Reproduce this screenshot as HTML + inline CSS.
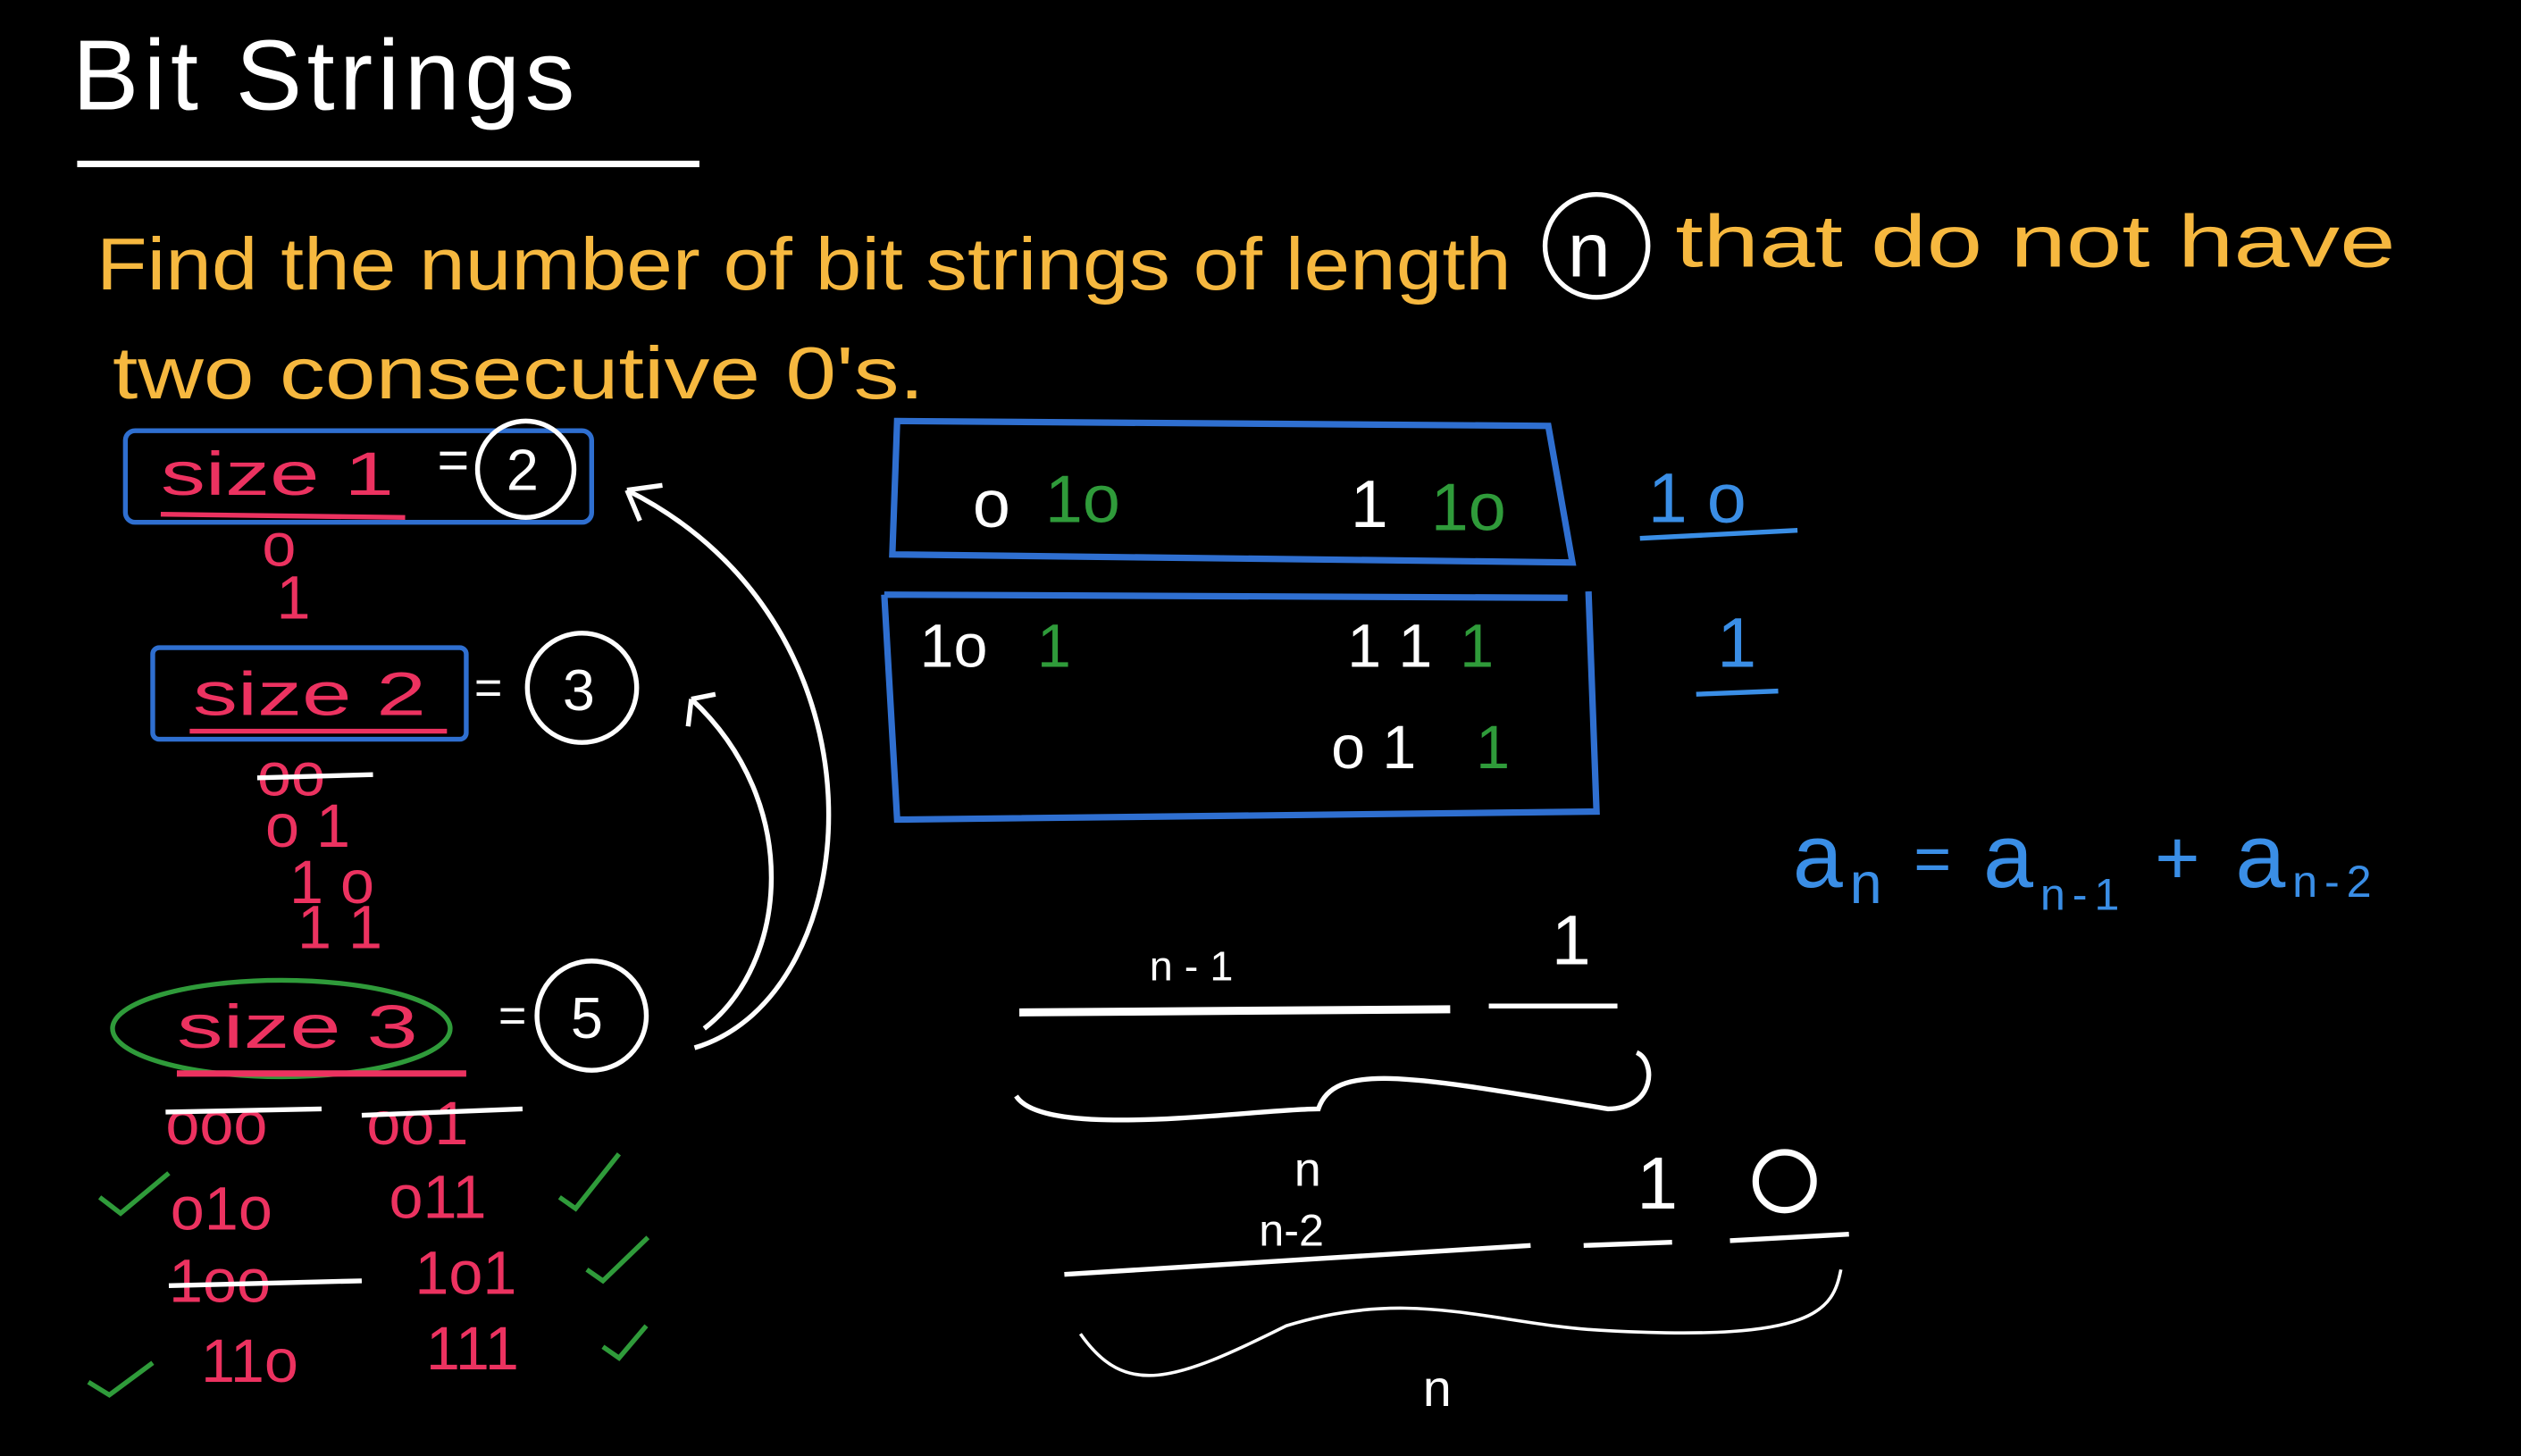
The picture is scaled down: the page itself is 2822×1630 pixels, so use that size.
<!DOCTYPE html>
<html><head><meta charset="utf-8"><style>
html,body{margin:0;padding:0;background:#000;width:2822px;height:1630px;overflow:hidden}
svg{display:block}
text{font-family:"Liberation Sans",sans-serif}
.y{fill:#f6b83f;font-size:46px}
.p{fill:#ec3260;font-size:38px}
.w{fill:#fff}
.b{fill:#3a8ee6}
.g{fill:#2f9b3a}
</style></head><body>
<svg width="2822" height="1630" viewBox="0 0 1568 906" preserveAspectRatio="none" xmlns="http://www.w3.org/2000/svg">
<rect width="1568" height="906" fill="#000"/>
<text x="45" y="68" class="w" font-size="62" letter-spacing="3">Bit Strings</text>
<line x1="48" y1="102" x2="435" y2="102" stroke="#fff" stroke-width="4"/>
<text x="60" y="180" class="y" textLength="880" lengthAdjust="spacingAndGlyphs">Find the number of bit strings of length</text>
<circle cx="993" cy="153" r="32" fill="none" stroke="#fff" stroke-width="3"/>
<text x="975" y="172" class="w" font-size="48">n</text>
<text x="1042" y="166" class="y" textLength="448" lengthAdjust="spacingAndGlyphs">that do not have</text>
<text x="70" y="248" class="y" textLength="505" lengthAdjust="spacingAndGlyphs">two consecutive 0's.</text>

<rect x="78" y="268" width="290" height="57" rx="6" fill="none" stroke="#2f6fd0" stroke-width="3"/>
<text x="100" y="308" class="p" textLength="145" lengthAdjust="spacingAndGlyphs">size 1</text>
<line x1="100" y1="320" x2="252" y2="322" stroke="#ec3260" stroke-width="3"/>
<text x="272" y="298" class="w" font-size="34">=</text>
<circle cx="327" cy="292" r="30" fill="none" stroke="#fff" stroke-width="3"/>
<text x="315" y="305" class="w" font-size="36">2</text>
<text x="163" y="352" class="p" font-size="28">o</text>
<text x="172" y="385" class="p" font-size="30">1</text>

<rect x="95" y="403" width="195" height="57" rx="4" fill="none" stroke="#2f6fd0" stroke-width="3"/>
<text x="120" y="445" class="p" textLength="145" lengthAdjust="spacingAndGlyphs">size 2</text>
<line x1="118" y1="455" x2="278" y2="455" stroke="#ec3260" stroke-width="3"/>
<text x="295" y="438" class="w" font-size="30">=</text>
<circle cx="362" cy="428" r="34" fill="none" stroke="#fff" stroke-width="3"/>
<text x="350" y="442" class="w" font-size="36">3</text>
<text x="160" y="495" class="p" font-size="30">oo</text>
<line x1="160" y1="484" x2="232" y2="482" stroke="#fff" stroke-width="3"/>
<text x="165" y="527" class="p" font-size="30">o 1</text>
<text x="180" y="562" class="p" font-size="30">1 o</text>
<text x="185" y="590" class="p" font-size="30">1 1</text>

<ellipse cx="175" cy="640" rx="105" ry="30" fill="none" stroke="#2f9b3a" stroke-width="3"/>
<text x="110" y="652" class="p" textLength="150" lengthAdjust="spacingAndGlyphs">size 3</text>
<line x1="110" y1="668" x2="290" y2="668" stroke="#ec3260" stroke-width="4"/>
<text x="310" y="642" class="w" font-size="30">=</text>
<circle cx="368" cy="632" r="34" fill="none" stroke="#fff" stroke-width="3"/>
<text x="355" y="646" class="w" font-size="36">5</text>
<text x="103" y="712" class="p" font-size="38">ooo</text>
<line x1="103" y1="692" x2="200" y2="690" stroke="#fff" stroke-width="3"/>
<text x="228" y="712" class="p" font-size="38">oo1</text>
<line x1="225" y1="694" x2="325" y2="690" stroke="#fff" stroke-width="3"/>
<text x="106" y="765" class="p" font-size="40">o1o</text>
<text x="242" y="758" class="p" font-size="40">o11</text>
<text x="105" y="810" class="p" font-size="38">1oo</text>
<line x1="105" y1="800" x2="225" y2="797" stroke="#fff" stroke-width="3"/>
<text x="258" y="805" class="p" font-size="40">1o1</text>
<text x="125" y="860" class="p" font-size="38">11o</text>
<text x="265" y="852" class="p" font-size="38">111</text>
<g stroke="#2f9b3a" stroke-width="3" fill="none">
<path d="M62 745 L75 755 L105 730"/><path d="M348 745 L358 752 L385 718"/>
<path d="M365 790 L375 797 L403 770"/><path d="M55 860 L68 868 L95 848"/>
<path d="M375 838 L385 845 L402 825"/>
</g>
<g stroke="#fff" stroke-width="3" fill="none">
<path d="M432 652 C 540 620, 560 390, 390 305"/>
<path d="M390 305 L412 302 M390 305 L398 324"/>
<path d="M438 640 C 490 600, 500 500, 430 435"/>
<path d="M430 435 L445 432 M430 435 L428 452"/>
</g>

<path d="M558 262 L963 265 L978 350 L555 345 Z" fill="none" stroke="#2f6fd0" stroke-width="4"/>
<text x="605" y="328" class="w" font-size="42">o</text><text x="650" y="325" class="g" font-size="42">1o</text>
<text x="840" y="328" class="w" font-size="42">1</text><text x="890" y="330" class="g" font-size="42">1o</text>
<path d="M550 370 L975 372 M988 368 L993 505 L558 510 L550 370" fill="none" stroke="#2f6fd0" stroke-width="4"/>
<text x="572" y="415" class="w" font-size="38">1o</text><text x="645" y="415" class="g" font-size="38">1</text>
<text x="838" y="415" class="w" font-size="38">1 1</text><text x="908" y="415" class="g" font-size="38">1</text>
<text x="828" y="478" class="w" font-size="38">o 1</text><text x="918" y="478" class="g" font-size="38">1</text>
<text x="1025" y="325" class="b" font-size="44">1 o</text>
<line x1="1020" y1="335" x2="1118" y2="330" stroke="#3a8ee6" stroke-width="3"/>
<text x="1068" y="415" class="b" font-size="44">1</text>
<line x1="1055" y1="432" x2="1106" y2="430" stroke="#3a8ee6" stroke-width="3"/>

<text x="1115" y="552" class="b" font-size="56" textLength="360" lengthAdjust="spacing">a<tspan font-size="36" dy="10">n</tspan><tspan font-size="40" dy="-14"> = </tspan><tspan dy="4">a</tspan><tspan font-size="28" dy="14">n-1</tspan><tspan font-size="48" dy="-16"> + </tspan><tspan dy="2">a</tspan><tspan font-size="28" dy="6">n-2</tspan></text>

<text x="715" y="610" class="w" font-size="26">n - 1</text>
<text x="965" y="600" class="w" font-size="44">1</text>
<line x1="634" y1="630" x2="902" y2="628" stroke="#fff" stroke-width="5"/>
<line x1="926" y1="626" x2="1006" y2="626" stroke="#fff" stroke-width="3"/>
<path d="M632 682 C 650 710, 780 690, 820 690 C 830 660, 880 670, 1000 690 C 1030 690, 1030 660, 1018 655" stroke="#fff" stroke-width="3" fill="none"/>
<text x="805" y="738" class="w" font-size="30">n</text>
<text x="783" y="775" class="w" font-size="28">n-2</text>
<text x="1018" y="752" class="w" font-size="46">1</text>
<circle cx="1110" cy="735" r="18" fill="none" stroke="#fff" stroke-width="4"/>
<line x1="662" y1="793" x2="952" y2="775" stroke="#fff" stroke-width="3"/>
<line x1="985" y1="775" x2="1040" y2="773" stroke="#fff" stroke-width="3"/>
<line x1="1076" y1="772" x2="1150" y2="768" stroke="#fff" stroke-width="3"/>
<path d="M672 830 C 700 870, 730 860, 800 825 C 880 800, 930 825, 1000 828 C 1130 835, 1140 815, 1145 790" stroke="#fff" stroke-width="2" fill="none"/>
<text x="885" y="875" class="w" font-size="32">n</text>
</svg>
</body></html>
